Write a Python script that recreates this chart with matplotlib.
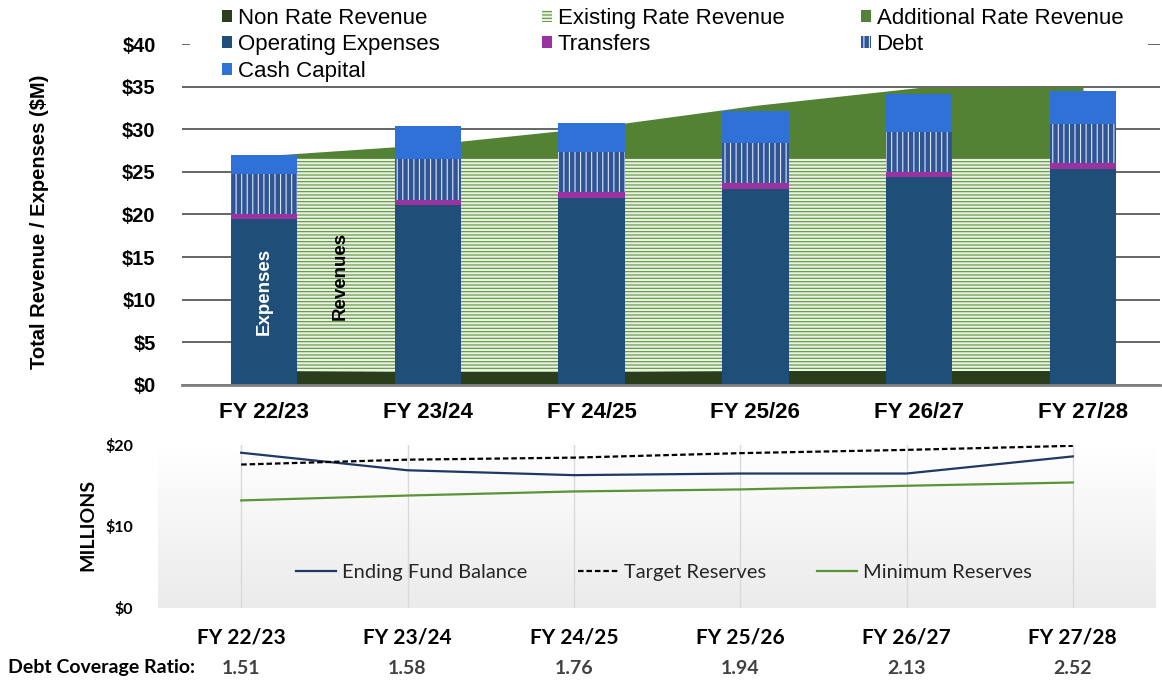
import numpy as np
import matplotlib
matplotlib.use('Agg')
import matplotlib.pyplot as plt
import matplotlib.transforms as mtransforms
from matplotlib.patches import Rectangle
from matplotlib.colors import LinearSegmentedColormap

years = ['FY 22/23', 'FY 23/24', 'FY 24/25', 'FY 25/26', 'FY 26/27', 'FY 27/28']

# 수입 - 누적 영역 ($M)
non_rate = [1.7, 1.6, 1.6, 1.7, 1.7, 1.7]
existing_rate = [25.0, 25.0, 25.0, 24.9, 24.9, 24.9]
additional_rate = [0.2, 1.6, 3.6, 6.2, 8.3, 8.4]

# 지출 - 누적 막대 ($M)
operating = [19.5, 21.1, 21.9, 23.0, 24.4, 25.3]
transfers = [0.55, 0.65, 0.7, 0.7, 0.6, 0.7]
debt = [4.75, 4.75, 4.7, 4.7, 4.7, 4.6]
cash_capital = [2.2, 3.9, 3.4, 3.7, 4.4, 3.9]

# 기금 잔액 / 적립금 ($M)
ending_fund = [19.05, 16.9, 16.3, 16.5, 16.5, 18.6]
target_reserves = [17.6, 18.2, 18.45, 19.0, 19.4, 19.9]
minimum_reserves = [13.2, 13.8, 14.3, 14.55, 15.0, 15.4]

coverage = [1.51, 1.58, 1.76, 1.94, 2.13, 2.52]

plt.rcParams['font.family'] = ['Liberation Sans', 'DejaVu Sans']
plt.rcParams['hatch.linewidth'] = 0.8

W, H = 1162, 681
fig = plt.figure(figsize=(W / 100, H / 100), dpi=100)
x = np.arange(len(years))

# ---- 위 차트 ----
ax = fig.add_axes([182 / W, 1 - 385 / H, 978 / W, 341 / H])

lvl1 = np.array(non_rate)
lvl2 = lvl1 + existing_rate
lvl3 = lvl2 + additional_rate
a1 = ax.fill_between(x, 0, lvl1, color='#2b3e1b', lw=0, zorder=2, label='Non Rate Revenue')
a2 = ax.fill_between(x, lvl1, lvl2, facecolor='#eaf1e3', edgecolor='#5a923a', hatch='-----',
                     lw=0, zorder=2, label='Existing Rate Revenue')
a3 = ax.fill_between(x, lvl2, lvl3, color='#548235', lw=0, zorder=2, label='Additional Rate Revenue')

w = 0.405
b1 = ax.bar(x, operating, w, color='#1f4e79', zorder=3, label='Operating Expenses')
bot = np.array(operating)
b2 = ax.bar(x, transfers, w, bottom=bot, color='#9a32a0', zorder=3, label='Transfers')
bot = bot + transfers
b3 = ax.bar(x, debt, w, bottom=bot, facecolor='#2f5597', edgecolor='#dfe6f3', hatch='|||',
            lw=0, zorder=3, label='Debt')
bot = bot + debt
b4 = ax.bar(x, cash_capital, w, bottom=bot, color='#2f71d7', zorder=3, label='Cash Capital')

ax.set_xlim(-0.5, 5.47)
ax.set_ylim(0, 40)
ticks = list(range(0, 41, 5))
ax.set_yticks(ticks, [f'${t}' for t in ticks])
ax.set_xticks(x, years)
ax.yaxis.grid(True, color='#595959', lw=1.3)
ax.set_axisbelow(True)
for s in ['top', 'right', 'left']:
    ax.spines[s].set_visible(False)
ax.spines['bottom'].set_color('#808080')
ax.spines['bottom'].set_linewidth(2)
ax.spines['bottom'].set_zorder(4)
ax.tick_params(axis='y', length=0, pad=19, labelsize=14.5)
ax.tick_params(axis='x', length=0, pad=12, labelsize=16)
for lbl in ax.get_xticklabels() + ax.get_yticklabels():
    lbl.set_fontweight('bold')

ax.text(0, 11.0, 'Expenses', rotation=90, color='white', fontweight='bold', fontsize=13.5,
        ha='center', va='center', zorder=5)
ax.text(0.464, 12.8, 'Revenues', rotation=90, color='black', fontweight='bold', fontsize=13.5,
        ha='center', va='center', zorder=5)
fig.text(40 / W, 1 - 222 / H, 'Total Revenue / Expenses ($M)', rotation=90, ha='center',
         va='center', fontsize=14.5, fontweight='bold')

# 범례 - 흰 배경으로 $40 격자선 가림
fig.add_artist(Rectangle((190 / W, 1 - 84 / H), (1148 - 190) / W, 84 / H, transform=fig.transFigure,
                         facecolor='white', edgecolor='none', zorder=1))
leg_kw = dict(frameon=False, fontsize=16, handlelength=0.45, handleheight=0.45, handletextpad=0.25,
              labelspacing=0.24, borderpad=0, borderaxespad=0, loc='upper left')
for hs, xpix in [([a1, b1, b4], 222), ([a2, b2], 542), ([a3, b3], 861)]:
    fig.legend(hs, [h.get_label() for h in hs], bbox_to_anchor=(xpix / W, 1 - 8 / H), **leg_kw)

# ---- 아래 차트 ----
ax2 = fig.add_axes([158 / W, 1 - 608 / H, 998 / W, 163 / H])
ax2.set_xlim(-0.5, 5.5)
ax2.set_ylim(0, 20)
grad = np.linspace(0, 1, 256).reshape(-1, 1)
cmap = LinearSegmentedColormap.from_list('bg', ['#ebebeb', '#ffffff'])
ax2.imshow(grad, extent=(-0.5, 5.5, 0, 20), origin='lower', aspect='auto', cmap=cmap, zorder=0)

l1, = ax2.plot(x, ending_fund, color='#203864', lw=1.6, label='Ending Fund Balance', zorder=3)
l2, = ax2.plot(x, target_reserves, color='black', lw=1.6, ls=(0, (2.5, 1.3)),
               label='Target Reserves', zorder=3)
l3, = ax2.plot(x, minimum_reserves, color='#5b9436', lw=1.6, label='Minimum Reserves', zorder=3)

ax2.set_xticks(x, years)
ax2.set_yticks([0, 10, 20], ['$0', '$10', '$20'])
ax2.xaxis.grid(True, color='#d9d9d9', lw=1)
for s in ax2.spines.values():
    s.set_visible(False)
ax2.tick_params(axis='y', length=0, pad=18, labelsize=11.5)
ax2.tick_params(axis='x', length=0, pad=14, labelsize=15)
for lbl in ax2.get_xticklabels() + ax2.get_yticklabels():
    lbl.set_fontweight('bold')
    lbl.set_family('Lato')

ax2.legend(handles=[l1, l2, l3], loc='center', bbox_to_anchor=(664 / W, 1 - 572 / H),
           bbox_transform=fig.transFigure, ncol=3, frameon=False, prop=dict(family='Lato', size=14.5),
           handlelength=2.0, handletextpad=0.3, columnspacing=2.5, labelcolor='#262626')

fig.text(88 / W, 1 - 525 / H, 'MILLIONS', rotation=90, ha='center', va='center', fontsize=14,
         fontweight='bold', family='Lato')

trans = mtransforms.blended_transform_factory(ax2.transData, fig.transFigure)
for xi, v in zip(x, coverage):
    ax2.text(xi, 1 - 668 / H, f'{v:.2f}', transform=trans, ha='center', va='center', fontsize=14,
             fontweight='bold', color='#404040', family='Lato', clip_on=False)
fig.text(8 / W, 1 - 668 / H, 'Debt Coverage Ratio:', ha='left', va='center', fontsize=14,
         fontweight='bold', family='Lato')

fig.savefig('out.png', dpi=100)
